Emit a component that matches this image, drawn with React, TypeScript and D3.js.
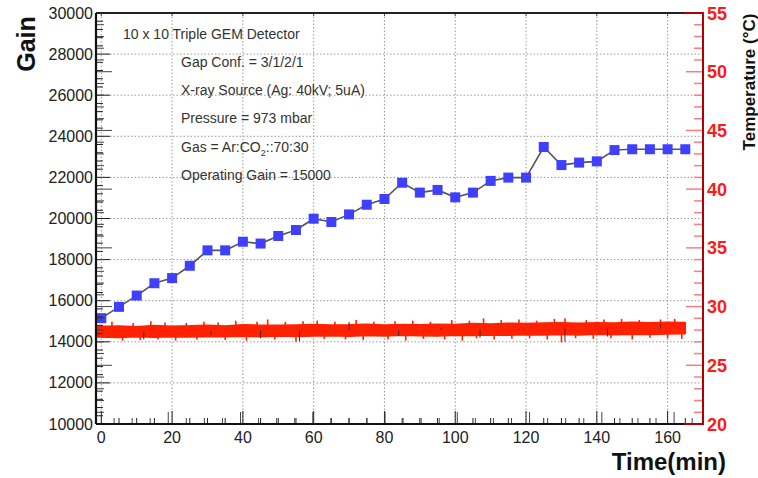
import React from "react";
import * as d3 from "d3";

const gainTime = [0,5,10,15,20,25,30,35,40,45,50,55,60,65,70,75,80,85,90,95,100,105,110,115,120,125,130,135,140,145,150,155,160,165];
const gainValue = [15150,15700,16250,16850,17100,17700,18450,18450,18870,18780,19150,19440,19990,19830,20200,20670,20950,21740,21260,21390,21030,21260,21830,21990,21990,23480,22600,22720,22780,23330,23370,23370,23370,23370];

const tempTime = [-1.5,5,10,15,20,25,30,35,40,45,50,55,60,65,70,75,80,85,90,95,100,105,110,115,120,125,130,135,140,145,150,155,160,165];
const tempUpper = [28.30,28.35,28.28,28.38,28.33,28.36,28.40,28.34,28.45,28.42,28.40,28.44,28.47,28.43,28.46,28.50,28.44,28.48,28.45,28.50,28.47,28.55,28.52,28.58,28.55,28.60,28.62,28.58,28.63,28.60,28.66,28.62,28.67,28.65];
const tempLower = [27.40,27.36,27.44,27.38,27.42,27.40,27.45,27.43,27.48,27.44,27.50,27.46,27.49,27.52,27.48,27.53,27.50,27.55,27.52,27.50,27.56,27.54,27.58,27.55,27.60,27.57,27.62,27.58,27.64,27.60,27.65,27.63,27.66,27.68];
const spikeUpTime = [3,9,14,18,24,29,33,38,44,47,52,57,61,66,72,77,83,88,93,99,104,108,113,118,123,128,131,137,142,147,152,158,162];
const spikeUpTemp = [28.7,28.6,28.75,28.65,28.6,28.7,28.65,28.8,28.7,28.9,28.7,28.75,28.8,28.7,28.85,28.7,28.75,28.8,28.7,28.85,28.8,29.0,28.85,28.9,28.8,28.95,29.0,28.85,28.9,28.95,28.85,28.9,28.95];
const spikeDownTime = [6,11,16,21,27,35,41,49,55,63,69,74,81,86,91,97,102,106,111,116,121,126,130,134,139,144,150,155,160,164];
const spikeDownTemp = [27.1,27.15,27.2,27.1,27.2,27.15,27.1,27.2,27.0,27.25,27.2,27.15,27.2,27.1,27.25,27.2,27.1,27.3,27.2,27.25,27.3,27.2,26.95,27.3,27.25,27.3,27.2,27.35,27.3,27.25];
const darkTime = [12,31,45,56,70,84,96,107,118,131,143,158];
const darkTemp = [27.2,27.6,27.3,27.05,28.7,27.5,28.2,27.35,28.0,27.0,27.45,28.5];

const xTicks = [0,20,40,60,80,100,120,140,160];
const gainTicks = [10000,12000,14000,16000,18000,20000,22000,24000,26000,28000,30000];
const tempTicks = [20,25,30,35,40,45,50,55];

const notes = [
  "Gap Conf. = 3/1/2/1",
  "X-ray Source (Ag: 40kV; 5uA)",
  "Pressure = 973 mbar",
];

export default function App() {
  const L = 96, R = 703, T = 13, B = 424;
  const x = d3.scaleLinear().domain([-1.5, 170]).range([L, R]);
  const x2 = d3.scaleLinear().domain([0, 168]).range([L, R]);
  const yG = d3.scaleLinear().domain([10000, 30000]).range([B, T]);
  const yT = d3.scaleLinear().domain([20, 55]).range([B, T]);
  const font = "'Liberation Sans', Arial, Helvetica, sans-serif";

  const band = d3.area<number>()
    .x((_, i) => x(tempTime[i]))
    .y0((_, i) => yT(tempLower[i]))
    .y1((_, i) => yT(tempUpper[i]))(tempTime.map((_, i) => i)) || "";
  const centerAt = (t: number) => {
    const i = Math.max(0, d3.bisectLeft(tempTime, t) - 1);
    return (tempUpper[i] + tempLower[i]) / 2;
  };
  const gainLine = d3.line<number>()
    .x((_, i) => x(gainTime[i]))
    .y((_, i) => yG(gainValue[i]))(gainTime.map((_, i) => i)) || "";

  const gridX = xTicks;
  const gridY = gainTicks.slice(1, -1);
  const minorGain = d3.range(10000, 30001, 400);
  const minorTemp = d3.range(20, 56, 1);
  const minorX = d3.range(0, 171, 5);
  const minorX2 = d3.range(0, 169, 5);

  return (
    <svg width={758} height={478} style={{ position: "absolute", left: 0, top: 0, background: "#fff" }} fontFamily={font}>
      {/* grid */}
      {gridX.map(t => (
        <line key={"gx" + t} x1={x(t)} x2={x(t)} y1={T} y2={B} stroke="#9a9a9a" strokeWidth={1} strokeDasharray="1.5,2" />
      ))}
      {gridY.map(g => (
        <line key={"gy" + g} x1={L} x2={R} y1={yG(g)} y2={yG(g)} stroke="#9a9a9a" strokeWidth={1} strokeDasharray="1.5,2" />
      ))}

      {/* temperature band */}
      <path d={band} fill="#ff2200" stroke="#ff2200" strokeWidth={1.5} strokeLinejoin="bevel" />
      {spikeUpTime.map((t, i) => (
        <line key={"su" + i} x1={x(t)} x2={x(t)} y1={yT(centerAt(t))} y2={yT(spikeUpTemp[i])} stroke="#ff2200" strokeWidth={1.6} />
      ))}
      {spikeDownTime.map((t, i) => (
        <line key={"sd" + i} x1={x(t)} x2={x(t)} y1={yT(centerAt(t))} y2={yT(spikeDownTemp[i])} stroke="#ff2200" strokeWidth={1.6} />
      ))}
      {darkTime.map((t, i) => (
        <line key={"dk" + i} x1={x(t)} x2={x(t)} y1={yT(centerAt(t))} y2={yT(darkTemp[i])} stroke="#552222" strokeWidth={1} />
      ))}

      {/* gain series */}
      <path d={gainLine} fill="none" stroke="#555" strokeWidth={1.6} />
      {gainTime.map((t, i) => (
        <rect key={"m" + i} x={x(t) - 5} y={yG(gainValue[i]) - 5} width={10} height={10} fill="#3f3fff" />
      ))}

      {/* left axis ticks (gain + overlaid temperature) */}
      {minorGain.map(g => (
        <line key={"lg" + g} x1={L} x2={L + (g % 2000 === 0 ? 14 : 7)} y1={yG(g)} y2={yG(g)} stroke="#222" strokeWidth={1} />
      ))}
      {minorTemp.map(t => (
        <line key={"lt" + t} x1={L} x2={L + (t % 5 === 0 ? 16 : 8)} y1={yT(t)} y2={yT(t)} stroke="#444" strokeWidth={1} />
      ))}
      {/* bottom ticks */}
      {minorX.filter(t => x(t) < R - 2).map(t => (
        <line key={"bx" + t} x1={x(t)} x2={x(t)} y1={B} y2={B - (t % 20 === 0 ? 13 : 6)} stroke="#222" strokeWidth={1} />
      ))}
      {minorX2.filter(t => x2(t) < R - 2).map(t => (
        <line key={"bx2" + t} x1={x2(t)} x2={x2(t)} y1={B} y2={B - (t % 20 === 0 ? 12 : 6)} stroke="#444" strokeWidth={1} />
      ))}
      {xTicks.map(t => (
        <line key={"tx" + t} x1={x(t)} x2={x(t)} y1={T} y2={T + 3} stroke="#444" strokeWidth={1} />
      ))}

      {/* right axis ticks */}
      {minorTemp.map(t => (
        <line key={"rt" + t} x1={R - (t % 5 === 0 ? 17 : 9)} x2={R} y1={yT(t)} y2={yT(t)} stroke="#ff7c7c" strokeWidth={1.5} />
      ))}

      {/* frame */}
      <line x1={L} x2={684} y1={T} y2={T} stroke="#222" strokeWidth={2} />
      <line x1={684} x2={R} y1={T} y2={T} stroke="#b00000" strokeWidth={2} />
      <line x1={L} x2={684} y1={B} y2={B} stroke="#111" strokeWidth={2} />
      <line x1={684} x2={R} y1={B} y2={B} stroke="#b00000" strokeWidth={2} />
      <line x1={L} x2={L} y1={T} y2={B} stroke="#111" strokeWidth={2.2} />
      <line x1={R} x2={R} y1={T - 1} y2={B + 1} stroke="#b00000" strokeWidth={2} />

      {/* tick labels */}
      {gainTicks.map(g => (
        <text key={"lgl" + g} x={93} y={yG(g) + 5.5} textAnchor="end" fontSize={16} fill="#222">{g}</text>
      ))}
      {xTicks.map(t => (
        <text key={"xl" + t} x={x(t)} y={443} textAnchor="middle" fontSize={16} fill="#222">{t}</text>
      ))}
      {tempTicks.map(t => (
        <text key={"rtl" + t} x={707} y={yT(t) + 6.5} fontSize={18} fontWeight="bold" fill="#ff1a1a">{t}</text>
      ))}

      {/* axis titles */}
      <text transform="translate(35,44) rotate(-90)" textAnchor="middle" fontSize={25} fontWeight="bold" fill="#111">Gain</text>
      <text transform="translate(755,82) rotate(-90)" textAnchor="middle" fontSize={17} fontWeight="bold" fill="#111">Temperature (°C)</text>
      <text x={726} y={470} textAnchor="end" fontSize={24} fontWeight="bold" fill="#111">Time(min)</text>

      {/* annotations */}
      <text x={123} y={38.5} fontSize={14} fill="#333">10 x 10 Triple GEM Detector</text>
      {notes.map((n, i) => (
        <text key={"n" + i} x={181} y={66.5 + i * 28.3} fontSize={14} fill="#333">{n}</text>
      ))}
      <text x={181} y={151.5} fontSize={14} fill="#333">
        Gas = Ar:CO<tspan fontSize={9} dy={4}>2</tspan><tspan dy={-4}>::70:30</tspan>
      </text>
      <text x={181} y={179.5} fontSize={14} fill="#333">Operating Gain = 15000</text>
    </svg>
  );
}
